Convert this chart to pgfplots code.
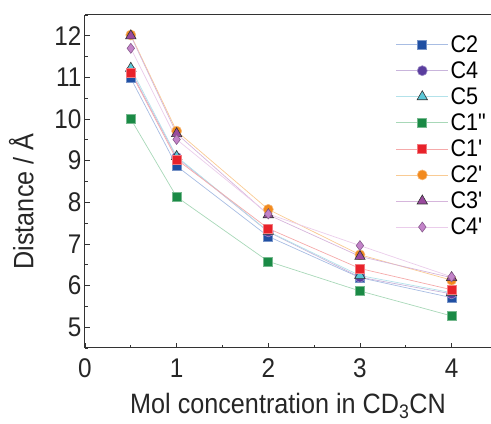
\documentclass[border=0pt]{standalone}
\usepackage{fontspec}
\setmainfont{Liberation Sans}[FakeStretch=0.9]
\usepackage{pgfplots}
\pgfplotsset{compat=1.18}

\definecolor{cBlue}{HTML}{1F4FA3}\definecolor{lBlue}{HTML}{A8BDE3}
\definecolor{cIndigo}{HTML}{5A3D9E}\definecolor{lIndigo}{HTML}{C9B5DC}
\definecolor{cCyan}{HTML}{5CC8D8}\definecolor{lCyan}{HTML}{B3E2EA}
\definecolor{cGreen}{HTML}{1A8A45}\definecolor{lGreen}{HTML}{A8D8B8}
\definecolor{cRed}{HTML}{E8222A}\definecolor{lRed}{HTML}{F5AAAA}
\definecolor{cOrange}{HTML}{F28A1E}\definecolor{lOrange}{HTML}{F9CB94}
\definecolor{cPurple}{HTML}{9A4A9E}\definecolor{lPurple}{HTML}{D6B6DC}
\definecolor{cPink}{HTML}{C383C9}\definecolor{lPink}{HTML}{EBCDEB}

\begin{document}
\begin{tikzpicture}
\begin{axis}[
    name=ax,
    scale only axis,
    width=406pt, height=333pt,
    xmin=0, xmax=4.43,
    ymin=4.5, ymax=12.5,
    axis x line=box, axis y line=left,
    axis line style={-, line width=1pt, black!80},
    xtick={0,1,2,3,4}, minor xtick={0.5,1.5,2.5,3.5},
    ytick={5,6,...,12}, minor ytick={4.5,5.5,...,12},
    xtick pos=bottom, ytick pos=left,
    tick align=inside,
    major tick length=5pt, minor tick length=3pt,
    tick style={black!80, line width=0.8pt},
    /pgf/number format/assume math mode=true,
    ticklabel style={font=\fontsize{27}{30}\selectfont, text=black!85},
    xticklabel style={yshift=-7pt},
    xlabel={Mol concentration in CD\textsubscript{3}CN},
    ylabel={Distance / Å},
    label style={font=\fontsize{28}{32}\selectfont, text=black!85},
    ylabel style={at={(ticklabel cs:0.44,14pt)}},
    xlabel style={yshift=-9pt},
    legend style={draw=none, fill=none, at={(rel axis cs:0.995,0.945)}, anchor=north east,
        font=\fontsize{24}{26}\selectfont, row sep=3.8pt, inner sep=0pt,
        cells={anchor=west}},
    legend image code/.code={
        \draw[mark repeat=2,mark phase=2] plot coordinates {(0pt,0pt) (26pt,0pt) (52pt,0pt)};
    },
    every axis plot/.append style={line width=0.7pt},
]
\addplot[color=lBlue, mark=square*, mark size=4.5pt, mark options={fill=cBlue, draw=cBlue!60!white, line width=0.6pt}]
  coordinates {(0.5,10.98) (1,8.87) (2,7.18) (3,6.19) (4,5.71)};
\addlegendentry{C2}
\addplot[color=lIndigo, mark=*, mark size=5pt, mark options={fill=cIndigo, draw=cIndigo!60!white, line width=0.6pt}]
  coordinates {(0.5,11.15) (1,9.08) (2,7.29) (3,6.20) (4,5.80)};
\addlegendentry{C4}
\addplot[color=lCyan, mark=triangle*, mark size=6pt, mark options={fill=cCyan, draw=black!80, line width=0.6pt}]
  coordinates {(0.5,11.22) (1,9.10) (2,7.30) (3,6.24) (4,5.83)};
\addlegendentry{C5}
\addplot[color=lGreen, mark=square*, mark size=4.5pt, mark options={fill=cGreen, draw=cGreen!60!white, line width=0.6pt}]
  coordinates {(0.5,10.00) (1,8.13) (2,6.58) (3,5.87) (4,5.27)};
\addlegendentry{C1\textquotedbl}
\addplot[color=lRed, mark=square*, mark size=4.5pt, mark options={fill=cRed, draw=cRed!60!white, line width=0.6pt}]
  coordinates {(0.5,11.12) (1,9.03) (2,7.37) (3,6.41) (4,5.90)};
\addlegendentry{C1\textquotesingle}
\addplot[color=lOrange, mark=*, mark size=5pt, mark options={fill=cOrange, draw=cOrange!60!white, line width=0.6pt}]
  coordinates {(0.5,12.02) (1,9.71) (2,7.83) (3,6.74) (4,6.13)};
\addlegendentry{C2\textquotesingle}
\addplot[color=lPurple, mark=triangle*, mark size=6pt, mark options={fill=cPurple, draw=black!80, line width=0.6pt}]
  coordinates {(0.5,12.00) (1,9.65) (2,7.70) (3,6.70) (4,6.19)};
\addlegendentry{C3\textquotesingle}
\addplot[color=lPink, mark=diamond*, mark size=5pt, mark options={fill=cPink, draw=cPink!70!black, line width=0.6pt}]
  coordinates {(0.5,11.70) (1,9.51) (2,7.72) (3,6.96) (4,6.21)};
\addlegendentry{C4\textquotesingle}
\end{axis}
\pgfresetboundingbox
\path ([shift={(-85pt,-76pt)}]ax.south west) rectangle ([shift={(0pt,15pt)}]ax.north east);
\end{tikzpicture}
\end{document}
